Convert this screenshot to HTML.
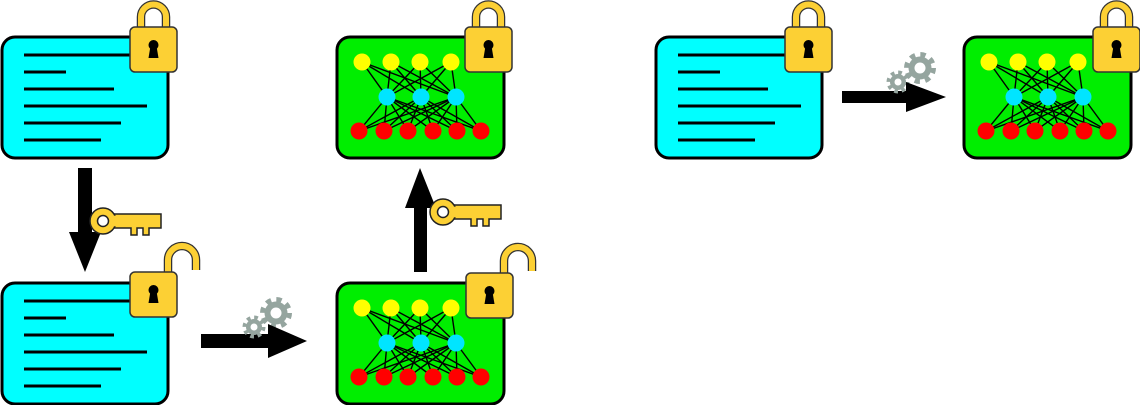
<!DOCTYPE html>
<html><head><meta charset="utf-8"><style>html,body{margin:0;padding:0;background:#fff}svg{display:block}</style></head>
<body>
<svg width="1140" height="405" viewBox="0 0 1140 405" xmlns="http://www.w3.org/2000/svg">
<defs>
  <g id="doc">
    <rect x="0" y="0" width="166" height="121" rx="13" fill="#00ffff" stroke="#000" stroke-width="3"/>
    <g stroke="#000" stroke-width="3">
      <line x1="22" y1="18" x2="135" y2="18"/>
      <line x1="22" y1="35" x2="64" y2="35"/>
      <line x1="22" y1="52" x2="112" y2="52"/>
      <line x1="22" y1="69" x2="145" y2="69"/>
      <line x1="22" y1="86" x2="119" y2="86"/>
      <line x1="22" y1="103" x2="99" y2="103"/>
    </g>
  </g>
  <g id="net">
    <rect x="0" y="0" width="167" height="121" rx="13" fill="#00ee00" stroke="#000" stroke-width="3"/>
    <g stroke="#000" stroke-width="1.4">
      <line x1="25" y1="25" x2="50" y2="60"/><line x1="25" y1="25" x2="84" y2="60"/><line x1="25" y1="25" x2="119" y2="60"/>
      <line x1="54" y1="25" x2="50" y2="60"/><line x1="54" y1="25" x2="84" y2="60"/><line x1="54" y1="25" x2="119" y2="60"/>
      <line x1="83" y1="25" x2="50" y2="60"/><line x1="83" y1="25" x2="84" y2="60"/><line x1="83" y1="25" x2="119" y2="60"/>
      <line x1="114" y1="25" x2="50" y2="60"/><line x1="114" y1="25" x2="84" y2="60"/><line x1="114" y1="25" x2="119" y2="60"/>
      <line x1="50" y1="60" x2="22" y2="94"/><line x1="50" y1="60" x2="47" y2="94"/><line x1="50" y1="60" x2="71" y2="94"/><line x1="50" y1="60" x2="96" y2="94"/><line x1="50" y1="60" x2="120" y2="94"/><line x1="50" y1="60" x2="144" y2="94"/>
      <line x1="84" y1="60" x2="22" y2="94"/><line x1="84" y1="60" x2="47" y2="94"/><line x1="84" y1="60" x2="71" y2="94"/><line x1="84" y1="60" x2="96" y2="94"/><line x1="84" y1="60" x2="120" y2="94"/><line x1="84" y1="60" x2="144" y2="94"/>
      <line x1="119" y1="60" x2="22" y2="94"/><line x1="119" y1="60" x2="47" y2="94"/><line x1="119" y1="60" x2="71" y2="94"/><line x1="119" y1="60" x2="96" y2="94"/><line x1="119" y1="60" x2="120" y2="94"/><line x1="119" y1="60" x2="144" y2="94"/>
    </g>
    <g fill="#ffff00"><circle cx="25" cy="25" r="8.5"/><circle cx="54" cy="25" r="8.5"/><circle cx="83" cy="25" r="8.5"/><circle cx="114" cy="25" r="8.5"/></g>
    <g fill="#00e5ff"><circle cx="50" cy="60" r="8.5"/><circle cx="84" cy="60" r="8.5"/><circle cx="119" cy="60" r="8.5"/></g>
    <g fill="#ff0000"><circle cx="22" cy="94" r="8.5"/><circle cx="47" cy="94" r="8.5"/><circle cx="71" cy="94" r="8.5"/><circle cx="96" cy="94" r="8.5"/><circle cx="120" cy="94" r="8.5"/><circle cx="144" cy="94" r="8.5"/></g>
  </g>
  <g id="lockbody">
    <rect x="0" y="0" width="47" height="45" rx="5" fill="#fcd034" stroke="#333" stroke-width="1.5"/>
    <circle cx="23.5" cy="18" r="5" fill="#000"/>
    <polygon points="20.5,19 26.5,19 28.5,31 18.5,31" fill="#000"/>
  </g>
  <g id="lockc">
    <path d="M11 1 V-10 A12.5 12.5 0 0 1 36 -10 V1" fill="none" stroke="#333" stroke-width="8.5"/>
    <path d="M11 1 V-10 A12.5 12.5 0 0 1 36 -10 V1" fill="none" stroke="#fcd034" stroke-width="6"/>
    <use href="#lockbody"/>
  </g>
  <g id="locko">
    <path d="M38 1 V-12 A14 14 0 0 1 66 -12 V-2" fill="none" stroke="#333" stroke-width="8.5"/>
    <path d="M38 1 V-12 A14 14 0 0 1 66 -12 V-2" fill="none" stroke="#fcd034" stroke-width="6"/>
    <use href="#lockbody"/>
  </g>
  <g id="key">
    <path d="M0 -7 H58 V7 H46 V14 H40 V7 H34 V14 H28 V7 H0 Z" fill="#fcd034" stroke="#222" stroke-width="1.5"/>
    <circle cx="0" cy="0" r="13" fill="#fcd034" stroke="#222" stroke-width="1.5"/>
    <circle cx="0" cy="0" r="5.5" fill="#fff" stroke="#222" stroke-width="1.5"/>
    <rect x="11" y="-5.3" width="5" height="10.6" fill="#fcd034"/>
  </g>
  <g id="gears">
    <circle cx="0" cy="0" r="13" fill="none" stroke="#95a59f" stroke-width="6" stroke-dasharray="5.1 5.1"/>
    <circle cx="0" cy="0" r="11.5" fill="#95a59f"/>
    <circle cx="0" cy="0" r="5.5" fill="#fff"/>
    <circle cx="-22" cy="14" r="9" fill="none" stroke="#95a59f" stroke-width="5" stroke-dasharray="3.5 3.55"/>
    <circle cx="-22" cy="14" r="8" fill="#95a59f"/>
    <circle cx="-22" cy="14" r="3.5" fill="#fff"/>
  </g>
</defs>

<use href="#doc" x="2" y="37"/>
<use href="#lockc" x="130" y="27"/>
<use href="#doc" x="2" y="283"/>
<use href="#locko" x="130" y="272"/>

<rect x="78" y="168" width="14" height="66" fill="#000"/>
<polygon points="69,232 101,232 85,272" fill="#000"/>
<use href="#key" x="103" y="221"/>

<rect x="201" y="334" width="72" height="14" fill="#000"/>
<use href="#gears" x="276" y="313"/>
<polygon points="268,324 307,341 268,358" fill="#000"/>

<use href="#net" x="337" y="283"/>
<use href="#locko" x="466" y="273"/>

<rect x="414" y="205" width="13" height="67" fill="#000"/>
<polygon points="405,208 436,208 420,168" fill="#000"/>
<use href="#key" x="443" y="212"/>

<use href="#net" x="337" y="37"/>
<use href="#lockc" x="465" y="27"/>

<use href="#doc" x="656" y="37"/>
<use href="#lockc" x="785" y="27"/>
<rect x="842" y="91" width="68" height="12" fill="#000"/>
<use href="#gears" x="920" y="68"/>
<polygon points="906,82 946,97 906,112" fill="#000"/>
<use href="#net" x="964" y="37"/>
<use href="#lockc" x="1093" y="27"/>
</svg>
</body></html>
